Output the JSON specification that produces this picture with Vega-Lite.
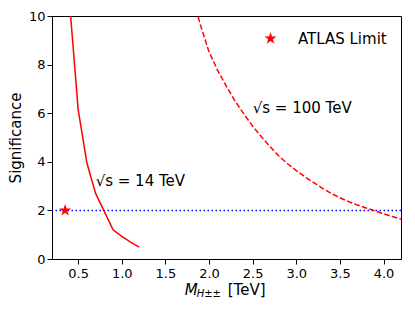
{
  "$schema": "https://vega.github.io/schema/vega-lite/v6.json",
  "width": 349,
  "height": 243,
  "autosize": {"type": "none"},
  "padding": {"left": 52, "top": 16, "right": 14, "bottom": 53},
  "datasets": {
    "lhc14": [
      {"m": 0.4, "sig": 10.6},
      {"m": 0.5, "sig": 6.15},
      {"m": 0.6, "sig": 3.95},
      {"m": 0.7, "sig": 2.7},
      {"m": 0.8, "sig": 1.95},
      {"m": 0.9, "sig": 1.2},
      {"m": 1.0, "sig": 0.93},
      {"m": 1.1, "sig": 0.69},
      {"m": 1.2, "sig": 0.49}
    ],
    "fcc100": [
      {"m": 1.85, "sig": 10.28},
      {"m": 1.9, "sig": 9.65},
      {"m": 2.0, "sig": 8.52},
      {"m": 2.1, "sig": 7.75},
      {"m": 2.2, "sig": 7.1},
      {"m": 2.3, "sig": 6.49},
      {"m": 2.4, "sig": 5.96},
      {"m": 2.5, "sig": 5.47},
      {"m": 2.6, "sig": 5.03},
      {"m": 2.7, "sig": 4.62},
      {"m": 2.8, "sig": 4.24},
      {"m": 2.9, "sig": 3.92},
      {"m": 3.0, "sig": 3.64},
      {"m": 3.1, "sig": 3.38},
      {"m": 3.2, "sig": 3.14},
      {"m": 3.3, "sig": 2.91},
      {"m": 3.4, "sig": 2.7},
      {"m": 3.5, "sig": 2.52},
      {"m": 3.6, "sig": 2.36},
      {"m": 3.7, "sig": 2.22},
      {"m": 3.8, "sig": 2.1},
      {"m": 3.9, "sig": 1.98},
      {"m": 4.0, "sig": 1.86},
      {"m": 4.1, "sig": 1.75},
      {"m": 4.2, "sig": 1.64}
    ],
    "atlas": [{"m": 0.35, "sig": 2, "label": "ATLAS Limit"}],
    "notes": [
      {"m": 0.7, "sig": 3.2, "text": "√s = 14 TeV"},
      {"m": 2.5, "sig": 6.22, "text": "√s = 100 TeV"}
    ],
    "threshold": [{"sig": 2}],
    "xtitle": [
      {"m": 1.721, "sig": -1.28, "part": "M"},
      {"m": 1.858, "sig": -1.42, "part": "H±±"},
      {"m": 2.214, "sig": -1.28, "part": "[TeV]"}
    ]
  },
  "layer": [
    {
      "data": {"name": "threshold"},
      "mark": {"type": "rule", "color": "#0000ff", "strokeWidth": 1.5, "strokeDash": [1.5, 2.5]},
      "encoding": {"y": {"field": "sig", "type": "quantitative", "scale": {"domain": [0, 10], "nice": false}}}
    },
    {
      "data": {"name": "lhc14"},
      "mark": {"type": "line", "color": "#ff0000", "strokeWidth": 1.5, "clip": true},
      "encoding": {
        "x": {
          "field": "m", "type": "quantitative",
          "scale": {"domain": [0.2, 4.2], "nice": false, "zero": false},
          "axis": {"values": [0.5, 1, 1.5, 2, 2.5, 3, 3.5, 4], "format": ".1f", "title": null, "labelPadding": 3}
        },
        "y": {
          "field": "sig", "type": "quantitative",
          "scale": {"domain": [0, 10], "nice": false},
          "axis": {"values": [0, 2, 4, 6, 8, 10], "format": "d", "title": "Significance", "labelPadding": 2, "titlePadding": 5}
        }
      }
    },
    {
      "data": {"name": "fcc100"},
      "mark": {"type": "line", "color": "#ff0000", "strokeWidth": 1.5, "strokeDash": [5.5, 2.4], "clip": true},
      "encoding": {"x": {"field": "m", "type": "quantitative"}, "y": {"field": "sig", "type": "quantitative"}}
    },
    {
      "data": {"name": "atlas"},
      "mark": {"type": "point", "filled": true, "opacity": 1, "size": 165, "strokeWidth": 0, "color": "#ff0000"},
      "encoding": {
        "x": {"field": "m", "type": "quantitative"},
        "y": {"field": "sig", "type": "quantitative"},
        "shape": {
          "field": "label", "type": "nominal",
          "scale": {"range": ["M0,-1L0.2245,-0.309L0.951,-0.309L0.3633,0.118L0.5878,0.809L0,0.382L-0.5878,0.809L-0.3633,0.118L-0.951,-0.309L-0.2245,-0.309Z"]},
          "legend": {"title": null, "orient": "top-right", "offset": 14.5, "padding": 0, "labelFontSize": 15, "labelFont": "DejaVu Sans", "labelColor": "black", "labelOffset": 20, "symbolSize": 165, "symbolStrokeWidth": 0, "symbolFillColor": "#ff0000", "symbolOpacity": 1}
        }
      }
    },
    {
      "data": {"name": "notes"},
      "mark": {"type": "text", "align": "left", "baseline": "middle", "font": "DejaVu Sans", "fontSize": 15, "color": "black"},
      "encoding": {"x": {"field": "m", "type": "quantitative"}, "y": {"field": "sig", "type": "quantitative"}, "text": {"field": "text"}}
    },
    {
      "data": {"name": "xtitle"},
      "transform": [{"filter": "datum.part === 'M'"}],
      "mark": {"type": "text", "align": "left", "baseline": "middle", "font": "DejaVu Sans", "fontSize": 15, "fontStyle": "italic", "color": "black"},
      "encoding": {"x": {"field": "m", "type": "quantitative"}, "y": {"field": "sig", "type": "quantitative"}, "text": {"field": "part"}}
    },
    {
      "data": {"name": "xtitle"},
      "transform": [{"filter": "datum.part === 'H±±'"}],
      "mark": {"type": "text", "align": "left", "baseline": "middle", "font": "DejaVu Sans", "fontSize": 10, "fontStyle": "italic", "color": "black"},
      "encoding": {"x": {"field": "m", "type": "quantitative"}, "y": {"field": "sig", "type": "quantitative"}, "text": {"field": "part"}}
    },
    {
      "data": {"name": "xtitle"},
      "transform": [{"filter": "datum.part === '[TeV]'"}],
      "mark": {"type": "text", "align": "left", "baseline": "middle", "font": "DejaVu Sans", "fontSize": 15, "color": "black"},
      "encoding": {"x": {"field": "m", "type": "quantitative"}, "y": {"field": "sig", "type": "quantitative"}, "text": {"field": "part"}}
    }
  ],
  "config": {
    "font": "DejaVu Sans",
    "view": {"stroke": "black", "strokeWidth": 1},
    "axis": {
      "grid": false,
      "domainColor": "black",
      "domainWidth": 1,
      "tickColor": "black",
      "tickSize": 5,
      "tickWidth": 1,
      "labelColor": "black",
      "labelFont": "DejaVu Sans",
      "labelFontSize": 13,
      "titleFont": "DejaVu Sans",
      "titleFontSize": 15,
      "titleFontWeight": "normal",
      "titleColor": "black"
    }
  }
}
